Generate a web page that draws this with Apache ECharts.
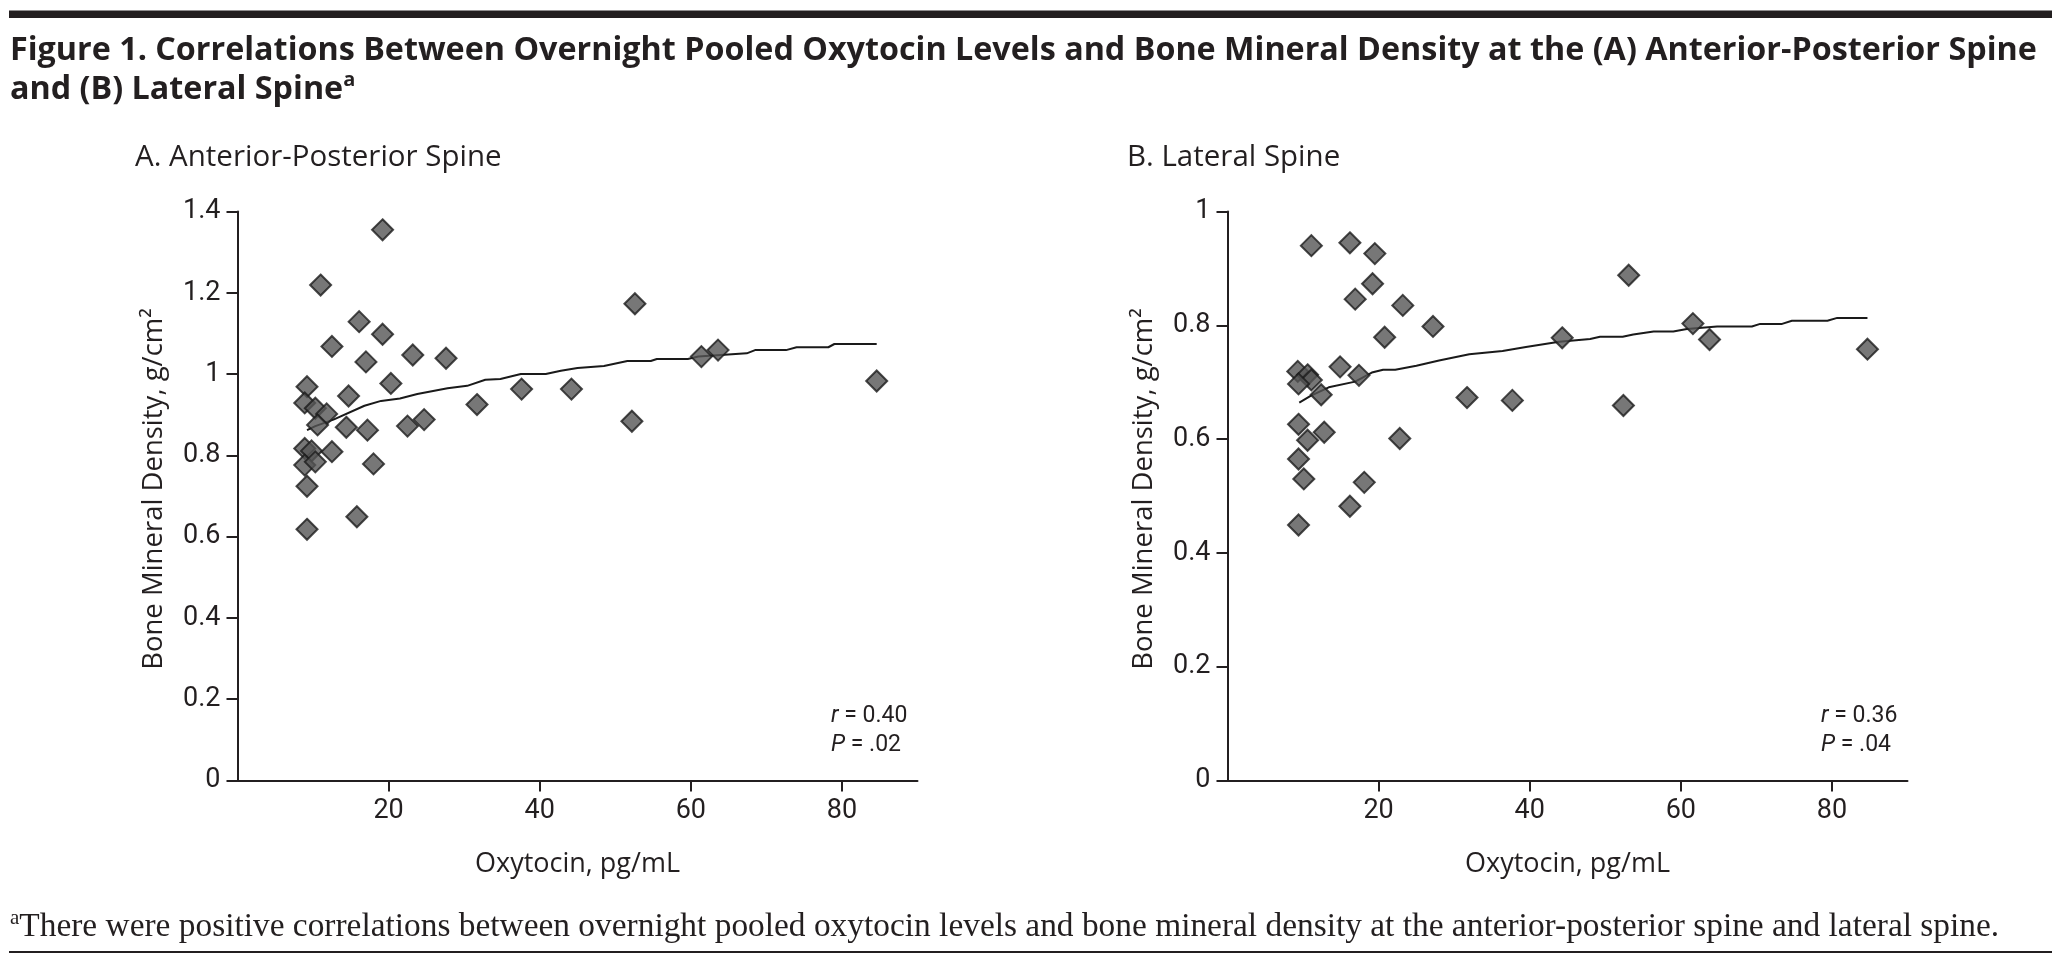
<!DOCTYPE html>
<html>
<head>
<meta charset="utf-8">
<script src="https://cdn.jsdelivr.net/npm/echarts@6/dist/echarts.min.js"></script>
<style>html,body{margin:0;padding:0;background:#fff}#c{width:2060px;height:956px}</style>
</head>
<body>
<div id="c"></div>
<script>
// ---- data ----
const xTickValues = [20, 40, 60, 80];

const apOxytocin = [19.2,11.0,52.6,16.1,19.2,12.5,17.0,23.2,27.6,9.2,20.3,14.7,37.6,44.2,31.7,8.9,10.3,11.8,10.6,14.4,17.2,22.5,24.7,52.2,8.9,9.8,12.5,8.9,10.3,18.0,9.2,15.8,9.2,61.4,63.6,84.6];
const apBMD      = [1.355,1.219,1.173,1.129,1.098,1.068,1.030,1.047,1.039,0.969,0.977,0.946,0.963,0.963,0.925,0.929,0.916,0.902,0.875,0.869,0.862,0.872,0.888,0.884,0.817,0.811,0.809,0.776,0.784,0.779,0.724,0.649,0.618,1.043,1.059,0.983];

const latOxytocin = [11.1,16.2,19.5,19.2,16.9,23.2,27.2,20.8,44.3,53.1,9.3,10.6,11.1,9.4,14.9,17.4,12.4,31.7,37.7,52.4,9.4,12.8,10.6,22.8,9.4,10.1,18.1,16.2,9.4,61.6,63.8,84.7];
const latBMD      = [0.940,0.945,0.926,0.873,0.846,0.835,0.798,0.779,0.778,0.888,0.719,0.713,0.704,0.697,0.727,0.712,0.678,0.673,0.668,0.659,0.626,0.612,0.598,0.601,0.565,0.530,0.524,0.482,0.449,0.803,0.775,0.758];

const apFitX = [9.2,10.3,12.7,16.8,19,21.5,23.8,27.8,30.4,32.8,34.8,37.5,40.8,42.8,45,48.5,51.6,54.7,55.5,59.6,61,67.4,68.5,72.6,74,78.2,79,84.6];
const apFitY = [0.862,0.872,0.888,0.922,0.934,0.940,0.951,0.965,0.971,0.986,0.988,1.0,1.0,1.008,1.015,1.020,1.032,1.032,1.037,1.037,1.043,1.051,1.059,1.059,1.066,1.066,1.074,1.074];

const latFitX = [9.5,11,13.4,16.9,19.1,20.6,22.2,25,28,32,36.4,39.5,43.9,48,49.3,52.3,53.7,56.4,59,60.8,64.8,69.4,70.5,73.4,74.7,79.4,80.7,84.7];
const latFitY = [0.664,0.676,0.691,0.701,0.717,0.722,0.722,0.729,0.738,0.749,0.755,0.762,0.771,0.776,0.780,0.780,0.784,0.789,0.789,0.7935,0.798,0.798,0.8025,0.8025,0.808,0.808,0.813,0.813];

const panelTitles = ['A. Anterior-Posterior Spine', 'B. Lateral Spine'];
const yAxisTitle = 'Bone Mineral Density, g/cm\u00b2';
const xAxisTitle = 'Oxytocin, pg/mL';
const stats = [['0.40', '.02'], ['0.36', '.04']];

// ---- build ----
const ink = '#231f20';
const sans = "'Open Sans', 'Noto Sans', sans-serif";
const narrow = "'Liberation Sans Narrow', Roboto, 'Open Sans', sans-serif";
const serif = "'Liberation Serif', 'DejaVu Serif', serif";

function zip(a, b) { return a.map((v, i) => [v, b[i]]); }

function xAxisOf(g) {
  return {
    type: 'value', gridIndex: g, min: 0, max: 90,
    splitLine: { show: false },
    axisLine: { show: true, onZero: false, lineStyle: { color: ink, width: 2 } },
    axisTick: { show: true, customValues: xTickValues, length: 11, lineStyle: { color: ink, width: 2 } },
    axisLabel: { customValues: xTickValues, margin: 17, color: ink, fontSize: 27, fontFamily: narrow },
    name: xAxisTitle, nameLocation: 'middle', nameGap: 70,
    nameTextStyle: { color: ink, fontSize: 27, fontFamily: sans }
  };
}
function yAxisOf(g, max) {
  return {
    type: 'value', gridIndex: g, min: 0, max: max, interval: 0.2,
    splitLine: { show: false },
    axisLine: { show: true, onZero: false, lineStyle: { color: ink, width: 2 } },
    axisTick: { show: true, length: 11, lineStyle: { color: ink, width: 2 } },
    axisLabel: { margin: 17, color: ink, fontSize: 27, fontFamily: narrow }
  };
}
function yTitle(x) {
  return { type: 'text', x: x, y: 489, rotation: Math.PI / 2, style: {
    text: yAxisTitle, fill: ink, fontSize: 27.5, fontFamily: sans, align: 'center', verticalAlign: 'middle' } };
}
const scatterStyle = { color: '#555555', borderColor: '#1c1c1c', borderWidth: 2 };

const option = {
  backgroundColor: '#fff',
  animation: false,
  grid: [
    { left: 237.5, top: 211.5, width: 680, height: 569 },
    { left: 1227.5, top: 211.5, width: 680, height: 569 }
  ],
  xAxis: [xAxisOf(0), xAxisOf(1)],
  yAxis: [yAxisOf(0, 1.4), yAxisOf(1, 1)],
  series: [
    { type: 'line', xAxisIndex: 0, yAxisIndex: 0, data: zip(apFitX, apFitY), showSymbol: false, symbol: 'none',
      lineStyle: { color: '#1a1a1a', width: 2 }, z: 2 },
    { type: 'scatter', xAxisIndex: 0, yAxisIndex: 0, data: zip(apOxytocin, apBMD), symbol: 'diamond', symbolSize: 21,
      itemStyle: scatterStyle, z: 3 },
    { type: 'line', xAxisIndex: 1, yAxisIndex: 1, data: zip(latFitX, latFitY), showSymbol: false, symbol: 'none',
      lineStyle: { color: '#1a1a1a', width: 2 }, z: 2 },
    { type: 'scatter', xAxisIndex: 1, yAxisIndex: 1, data: zip(latOxytocin, latBMD), symbol: 'diamond', symbolSize: 21,
      itemStyle: scatterStyle, z: 3 }
  ],
  graphic: [
    { type: 'rect', shape: { x: 9, y: 10.5, width: 2043, height: 7.5 }, style: { fill: ink } },
    { type: 'text', x: 10, y: 51, style: {
        text: 'Figure 1. Correlations Between Overnight Pooled Oxytocin Levels and Bone Mineral Density at the (A) Anterior-Posterior Spine',
        fill: ink, fontSize: 32.3, fontWeight: 'bold', fontFamily: sans, verticalAlign: 'middle', align: 'left' } },
    { type: 'text', x: 10, y: 89.5, style: {
        text: '{m|and (B) Lateral Spine}{s|a}',
        rich: {
          m: { fill: ink, fontSize: 32.3, fontWeight: 'bold', fontFamily: sans, lineHeight: 38 },
          s: { fill: ink, fontSize: 20, fontWeight: 'bold', fontFamily: sans, lineHeight: 20, verticalAlign: 'top' }
        },
        verticalAlign: 'middle', align: 'left' } },
    { type: 'text', x: 135, y: 158, style: { text: panelTitles[0], fill: ink, fontSize: 29.5, fontFamily: sans, verticalAlign: 'middle', align: 'left' } },
    { type: 'text', x: 1127, y: 158, style: { text: panelTitles[1], fill: ink, fontSize: 29.5, fontFamily: sans, verticalAlign: 'middle', align: 'left' } },
    yTitle(154),
    yTitle(1144),
    { type: 'text', x: 831, y: 702, style: {
        text: '{i|r} = ' + stats[0][0] + '\n{i|P} = ' + stats[0][1],
        rich: { i: { fontStyle: 'italic', fill: ink, fontSize: 23, fontFamily: narrow, lineHeight: 29 } },
        fill: ink, fontSize: 23, fontFamily: narrow, lineHeight: 29, verticalAlign: 'top', align: 'left' } },
    { type: 'text', x: 1821, y: 702, style: {
        text: '{i|r} = ' + stats[1][0] + '\n{i|P} = ' + stats[1][1],
        rich: { i: { fontStyle: 'italic', fill: ink, fontSize: 23, fontFamily: narrow, lineHeight: 29 } },
        fill: ink, fontSize: 23, fontFamily: narrow, lineHeight: 29, verticalAlign: 'top', align: 'left' } },
    { type: 'text', x: 10, y: 927, style: {
        text: '{s|a}{m|There were positive correlations between overnight pooled oxytocin levels and bone mineral density at the anterior-posterior spine and lateral spine.}',
        rich: {
          m: { fill: ink, fontSize: 33.4, fontFamily: serif, lineHeight: 38 },
          s: { fill: ink, fontSize: 21, fontFamily: serif, lineHeight: 24, verticalAlign: 'top' }
        },
        verticalAlign: 'middle', align: 'left' } },
    { type: 'rect', shape: { x: 9, y: 951, width: 2043, height: 2 }, style: { fill: ink } }
  ]
};

const chart = echarts.init(document.getElementById('c'), null, { renderer: 'canvas' });
chart.setOption(option);
</script>
</body>
</html>
